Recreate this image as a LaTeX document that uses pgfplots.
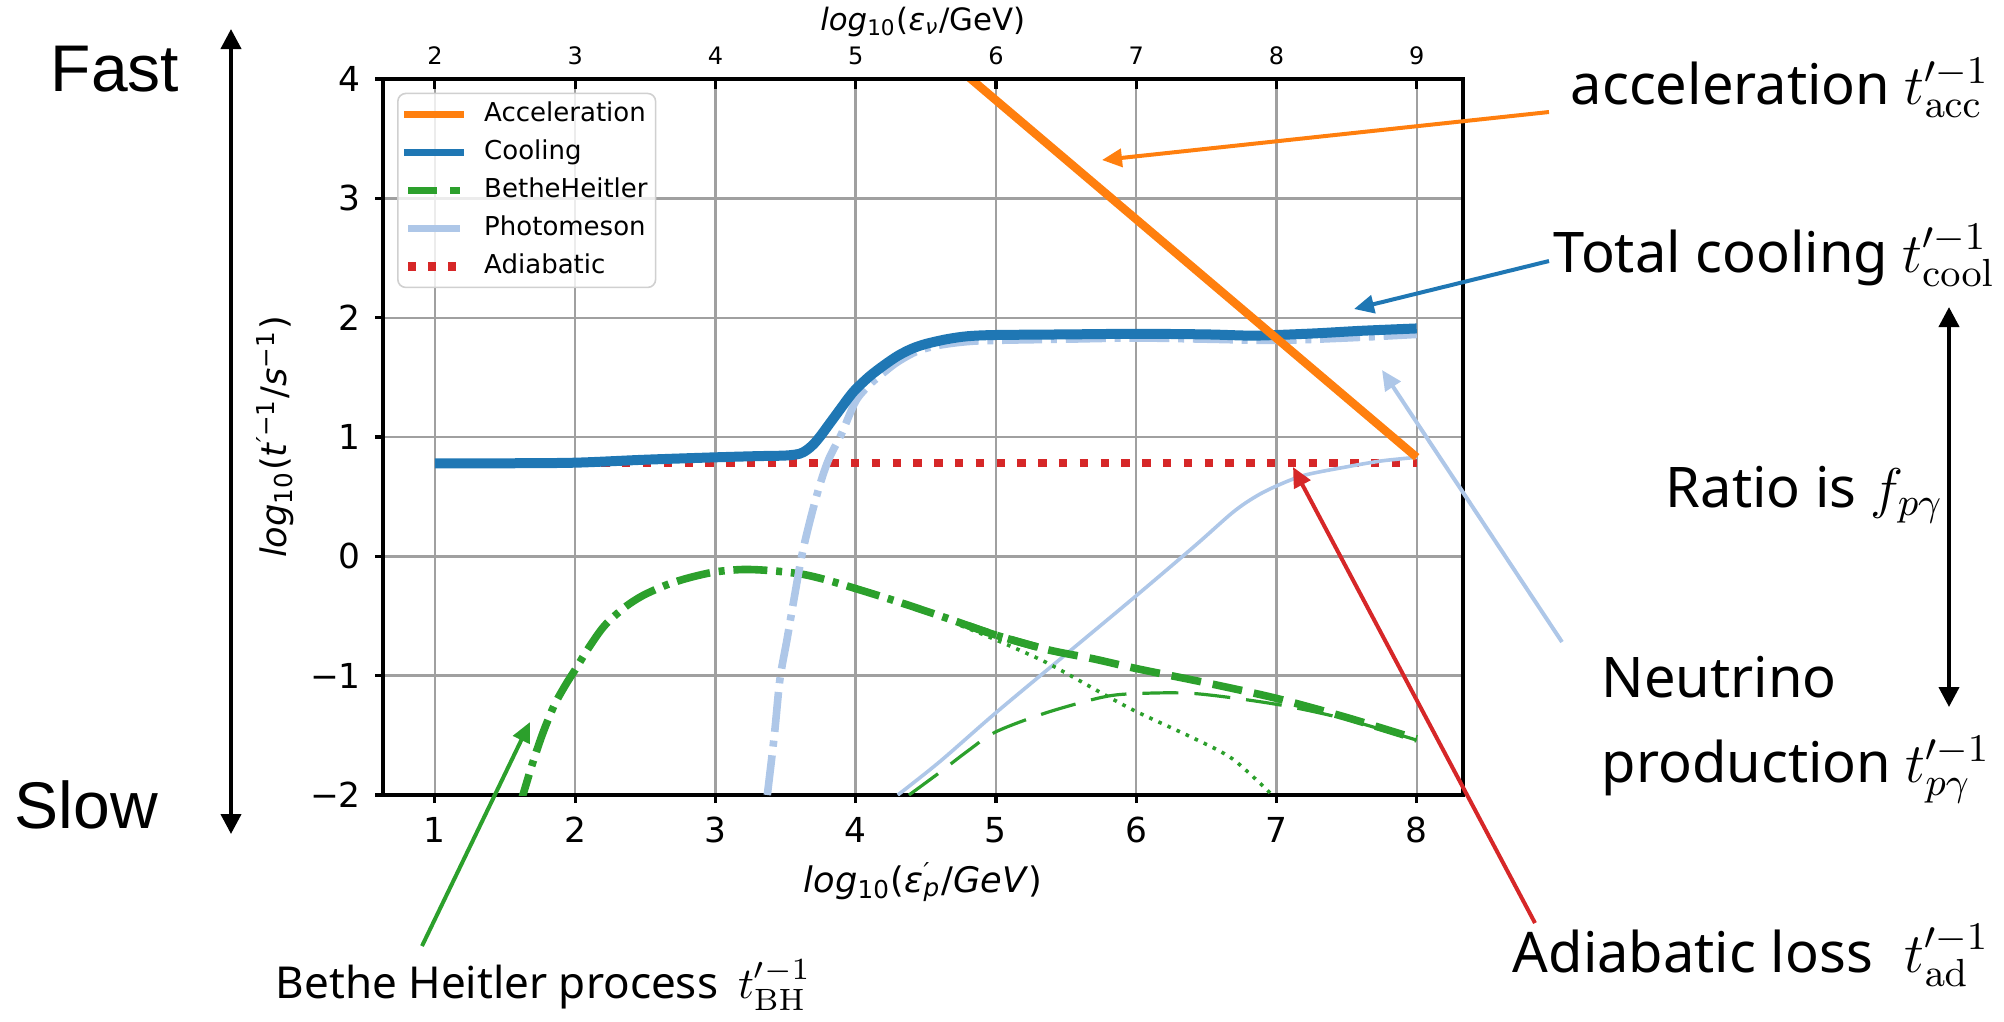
\RequirePackage{fix-cm}
\documentclass[border=0pt]{standalone}
\usepackage[no-math]{fontspec}
\setmainfont{DejaVu Sans}
\newfontfamily\arialf{Liberation Sans}
\newfontfamily\notof{Noto Sans}
\usepackage{pgfplots}
\pgfplotsset{compat=1.18}
\usetikzlibrary{arrows.meta}

\definecolor{cOrange}{HTML}{FF7F0E}
\definecolor{cBlue}{HTML}{1F77B4}
\definecolor{cGreen}{HTML}{2CA02C}
\definecolor{cLBlue}{HTML}{AEC7E8}
\definecolor{cRed}{HTML}{D62728}
\definecolor{cGrid}{HTML}{A0A0A0}

\tikzset{
 accst/.style={cOrange, line width=2.1pt},
 coolst/.style={cBlue, line width=2.5pt},
 pmst/.style={cLBlue, line width=1.9pt, dash pattern=on 10pt off 2.2pt on 1.5pt off 2.2pt},
 bhdd/.style={cGreen, line width=1.9pt, dash pattern=on 8.5pt off 2.2pt on 1.5pt off 2.2pt},
 bhd/.style={cGreen, line width=1.9pt, dash pattern=on 7.5pt off 3pt},
 bhthin/.style={cGreen, line width=0.8pt, dash pattern=on 9pt off 4pt},
 bhdot/.style={cGreen, line width=0.9pt, dash pattern=on 0.9pt off 1.6pt},
 pmthin/.style={cLBlue, line width=0.9pt},
 adst/.style={cRed, line width=2.1pt, dash pattern=on 2.1pt off 3.1pt},
}

\begin{document}
\begin{tikzpicture}
\begin{axis}[
 at={(95.75pt,-198.75pt)}, anchor=south west,
 scale only axis, width=270pt, height=179pt,
 xmin=0.63, xmax=8.33, ymin=-2, ymax=4,
 xtick={1,2,3,4,5,6,7,8}, xticklabels={1,2,3,4,5,6,7,8},
 ytick={-2,-1,0,1,2,3,4}, yticklabels={−2,−1,0,1,2,3,4},
 xtick pos=left, ytick pos=left,
 tick align=outside, major tick length=2pt,
 tick style={black, line width=0.8pt},
 axis line style={black, line width=0.8pt},
 grid=major, grid style={cGrid, line width=0.6pt},
 ticklabel style={font=\fontsize{8.6}{10}\selectfont},
 xlabel={\textit{log}\textsubscript{10}(\textit{ε}\rlap{\textsuperscript{\textit{′}}}\textsubscript{\textit{p}}/\textit{GeV})},
 ylabel={\textit{log}\textsubscript{10}(\textit{t}\textsuperscript{\textit{′}−1}/\textit{s}\textsuperscript{−1})},
 xlabel style={at={(axis description cs:0.5,-0.1215)}, anchor=center, font=\fontsize{8.8}{10}\selectfont},
 ylabel style={at={(axis description cs:-0.1,0.5)}, anchor=center, font=\fontsize{8.8}{10}\selectfont},
 legend style={
   at={(rel axis cs:0.013,0.981)}, anchor=north west,
   draw={rgb,255:red,208;green,208;blue,208}, rounded corners=2pt,
   fill=white, fill opacity=0.8, text opacity=1,
   font=\fontsize{6.5}{7}\selectfont,
   inner xsep=1.5pt, inner ysep=2pt,
   row sep=3pt,
   nodes={inner xsep=0.5pt, inner ysep=0pt, text height=5pt, text depth=1.5pt},
   /tikz/every odd column/.append style={column sep=4.5pt},
 },
 legend cell align=left,
 legend image code/.code={\draw[#1] (1pt,0pt) -- (14pt,0pt);},
]
\addlegendimage{accst, line width=1.8pt, line cap=rect}\addlegendentry{Acceleration}
\addlegendimage{coolst, line width=1.8pt, line cap=rect}\addlegendentry{Cooling}
\addlegendimage{cGreen, line width=1.6pt, dash pattern=on 7.25pt off 3.25pt}\addlegendentry{BetheHeitler}
\addlegendimage{cLBlue, line width=1.8pt}\addlegendentry{Photomeson}
\addlegendimage{cRed, line width=2.1pt, dash pattern=on 2.1pt off 2.9pt}\addlegendentry{Adiabatic}

% Adiabatic
\addplot[adst, forget plot] coordinates {(1,0.78) (8,0.78)};
% thin photomeson (neutrino production)
\addplot[pmthin, smooth, forget plot] coordinates {
(4.3,-2.0) (4.6,-1.72) (5.0,-1.31) (5.5,-0.82) (6.0,-0.33) (6.42,0.09) (6.69,0.37)
(6.85,0.50) (7.0,0.59) (7.2,0.68) (7.5,0.75) (7.75,0.80) (8.0,0.83)};
% BH components
\addplot[bhdot, smooth, forget plot] coordinates {
(4.75,-0.58) (5.0,-0.70) (5.36,-0.89) (5.76,-1.15) (6.0,-1.30) (6.42,-1.53) (6.69,-1.70) (6.97,-2.0)};
\addplot[bhthin, smooth, forget plot] coordinates {
(4.38,-2.0) (4.6,-1.81) (4.8,-1.63) (5.0,-1.47) (5.36,-1.31) (5.76,-1.18) (6.0,-1.15)
(6.42,-1.15) (7.0,-1.24) (7.48,-1.36) (8.0,-1.54)};
\addplot[bhd, smooth, forget plot] coordinates {
(4.8,-0.58) (5.0,-0.66) (5.36,-0.78) (5.7,-0.86) (6.0,-0.94) (6.5,-1.06) (7.0,-1.19) (7.5,-1.35) (8.0,-1.53)};
\addplot[bhdd, smooth, forget plot] coordinates {
(1.6,-2.1) (1.63,-1.99) (1.7,-1.72) (1.77,-1.48) (1.85,-1.25) (1.93,-1.08) (2.0,-0.95)
(2.1,-0.76) (2.21,-0.58) (2.35,-0.43) (2.48,-0.33) (2.65,-0.24) (2.81,-0.18) (3.0,-0.13)
(3.2,-0.11) (3.4,-0.12) (3.62,-0.15) (3.8,-0.2) (4.0,-0.27) (4.3,-0.38) (4.63,-0.51) (5.0,-0.66) (5.3,-0.76)};
% Photomeson thick
\addplot[pmst, smooth, forget plot] coordinates {
(3.37,-2.0) (3.42,-1.5) (3.46,-1.03) (3.51,-0.7) (3.56,-0.36) (3.62,0.03) (3.69,0.37)
(3.75,0.62) (3.81,0.82) (3.9,1.03) (4.0,1.30) (4.1,1.44) (4.2,1.54) (4.3,1.63) (4.44,1.72)
(4.6,1.77) (4.8,1.80) (5.0,1.81) (5.5,1.82) (6.0,1.83) (6.5,1.82) (7.0,1.81) (7.5,1.83) (8.0,1.86)};
% Cooling
\addplot[coolst, smooth, forget plot] coordinates {
(1.0,0.78) (1.5,0.78) (2.0,0.785) (2.5,0.81) (3.0,0.83) (3.3,0.84) (3.5,0.845) (3.6,0.86)
(3.65,0.89) (3.7,0.94) (3.75,1.01) (3.8,1.09) (3.85,1.17) (3.9,1.25) (3.95,1.33) (4.0,1.40)
(4.1,1.51) (4.2,1.60) (4.3,1.68) (4.4,1.74) (4.5,1.78) (4.65,1.82) (4.8,1.845) (5.0,1.855)
(5.5,1.86) (6.0,1.865) (6.5,1.86) (6.8,1.85) (7.0,1.855) (7.3,1.87) (7.6,1.89) (8.0,1.91)};
% Acceleration
\addplot[accst, forget plot] coordinates {(4.0,4.82) (8.0,0.83)};
\end{axis}

\begin{axis}[
 at={(95.75pt,-198.75pt)}, anchor=south west,
 scale only axis, width=270pt, height=179pt,
 xmin=1.63, xmax=9.33, ymin=0, ymax=1,
 axis x line*=top, axis y line=none,
 x axis line style={-, black, line width=0.8pt},
 xtick={2,3,4,5,6,7,8,9}, xticklabels={2,3,4,5,6,7,8,9},
 xtick align=inside, major tick length=2.5pt,
 tick style={black, line width=0.8pt},
 ticklabel style={font=\fontsize{6}{7}\selectfont},
 xlabel={\textit{log}\textsubscript{10}(\textit{ε}\textsubscript{\textit{ν}}/GeV)},
 xlabel style={at={(axis description cs:0.5,1.0796)}, anchor=center, font=\fontsize{7.7}{9}\selectfont},
]
\end{axis}

\begin{scope}[x=0.25pt,y=-0.25pt]
% left double arrow + Fast/Slow
\draw[black, line width=1pt, {Triangle[length=5pt,width=5pt]}-{Triangle[length=5pt,width=5pt]}] (231,29) -- (231,834);
\node[anchor=base west, inner sep=0, font=\arialf\fontsize{16.5}{18}\selectfont] at (50,91) {Fast};
\node[anchor=base west, inner sep=0, font=\arialf\fontsize{16.5}{18}\selectfont] at (14,828) {Slow};
% right double arrow
\draw[black, line width=1pt, {Triangle[length=5pt,width=5pt]}-{Triangle[length=5pt,width=5pt]}] (1949,307) -- (1949,707);
% annotation arrows
\draw[cOrange, line width=1pt, -{Triangle[length=5pt,width=4.5pt]}] (1549,112) -- (1102,160);
\draw[cBlue, line width=1pt, -{Triangle[length=5pt,width=4.5pt]}] (1549,261) -- (1354,309);
\draw[cLBlue, line width=1pt, -{Triangle[length=5pt,width=4.5pt]}] (1562,642) -- (1382,370);
\draw[cRed, line width=1pt, -{Triangle[length=5pt,width=4.5pt]}] (1535,923) -- (1293,467);
\draw[cGreen, line width=1pt, -{Triangle[length=5pt,width=4.5pt]}] (422,946) -- (530,722);
% annotation texts
\begin{scope}[every node/.style={anchor=base west, inner sep=0, font=\notof\fontsize{14}{16}\selectfont}]
\node at (1570,104) {acceleration $t'^{-1}_{\mathrm{acc}}$};
\node at (1553,272) {Total cooling $t'^{-1}_{\mathrm{cool}}$};
\node at (1665,507) {Ratio is $f_{p\gamma}$};
\node at (1601,697) {Neutrino};
\node at (1601,782) {production $t'^{-1}_{p\gamma}$};
\node at (1512,972) {Adiabatic loss\hspace{8pt}$t'^{-1}_{\mathrm{ad}}$};
\end{scope}
\node[anchor=base west, inner sep=0, font=\notof\fontsize{11}{13}\selectfont] at (275,998) {Bethe Heitler process\hspace{5pt}$t'^{-1}_{\mathrm{BH}}$};
\end{scope}
\pgfresetboundingbox
\path[use as bounding box] (0pt,0pt) rectangle (501pt,-255.25pt);
\end{tikzpicture}
\end{document}
